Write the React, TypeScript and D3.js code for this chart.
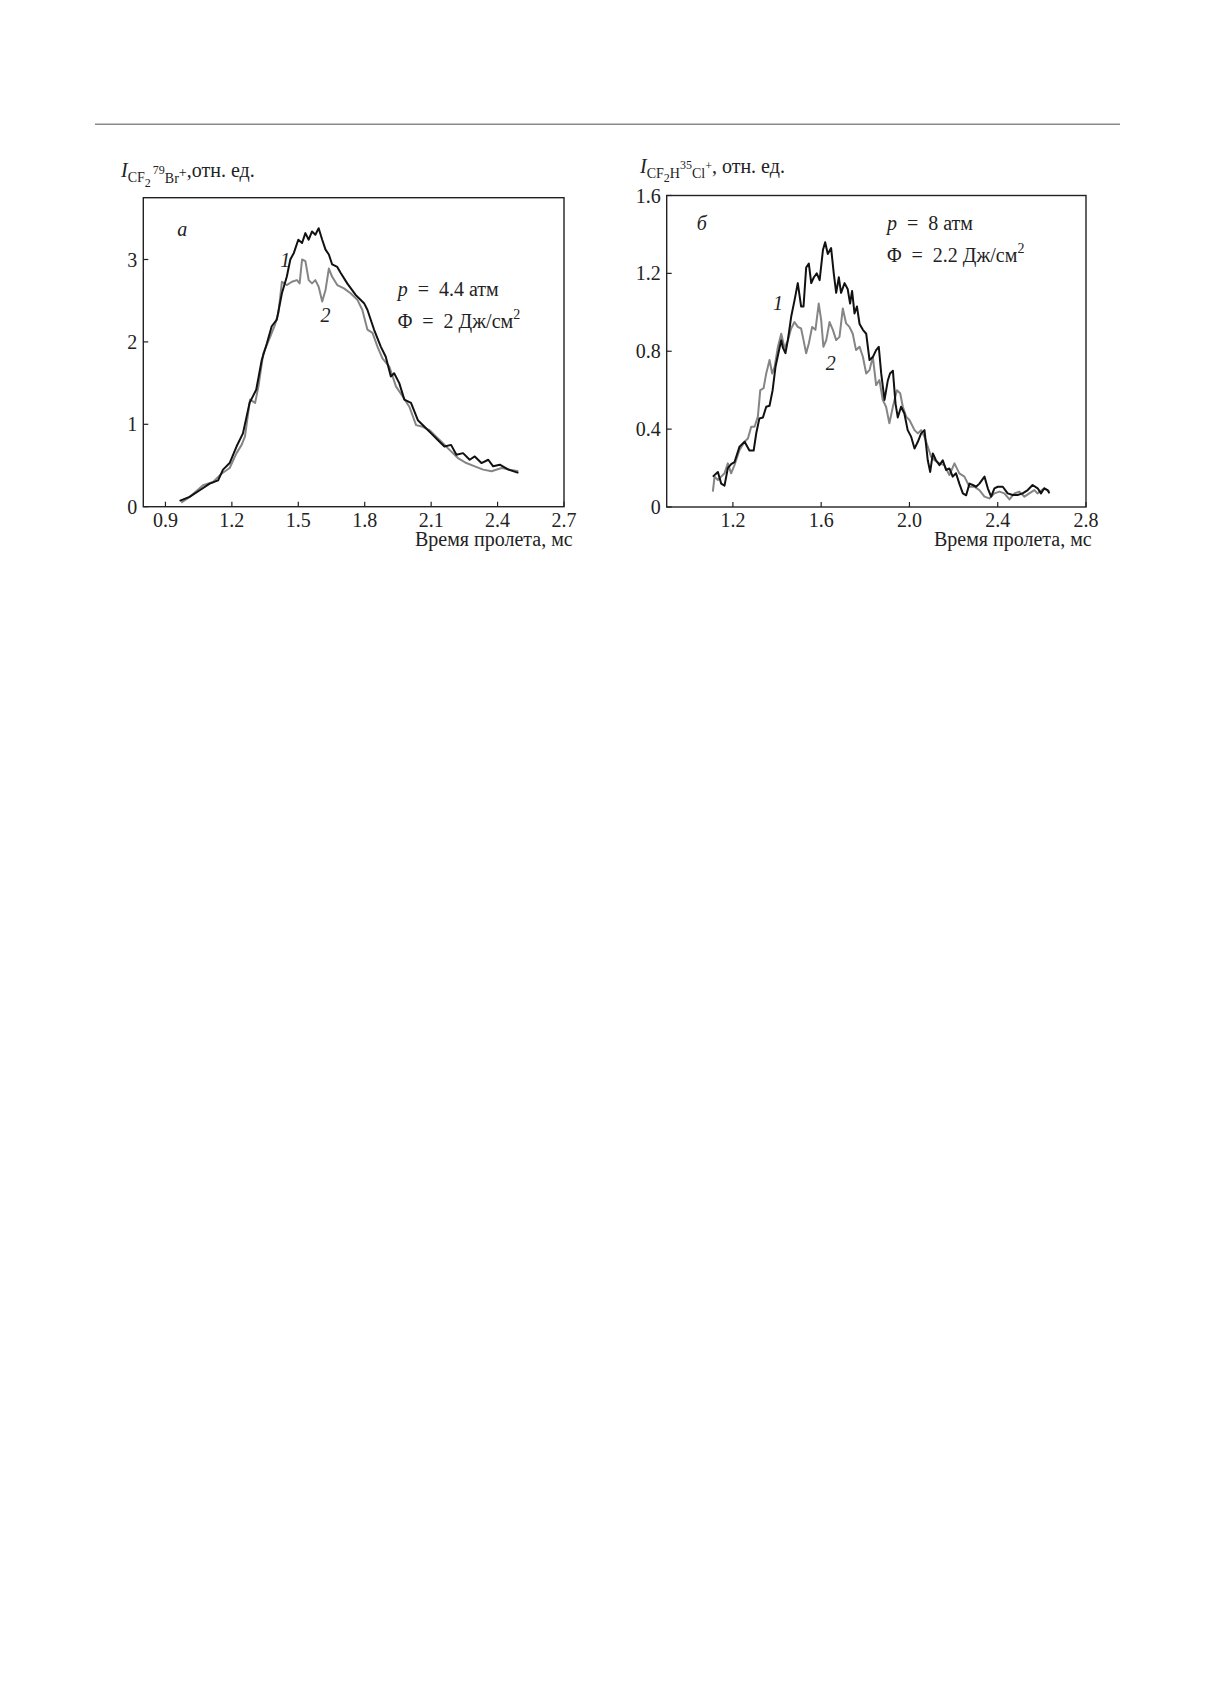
import React from 'react';
import * as d3 from 'd3';

// panel a: CF2 79Br+
const timeA1 = [0.964, 1.009, 1.055, 1.10, 1.138, 1.16, 1.19, 1.221, 1.25, 1.28, 1.31, 1.335, 1.358, 1.38, 1.403, 1.426, 1.448, 1.464, 1.48, 1.50, 1.517, 1.532, 1.547, 1.562, 1.577, 1.592, 1.608, 1.623, 1.638, 1.653, 1.676, 1.691, 1.721, 1.759, 1.797, 1.812, 1.842, 1.873, 1.895, 1.918, 1.933, 1.956, 1.979, 2.009, 2.04, 2.07, 2.10, 2.13, 2.16, 2.19, 2.214, 2.244, 2.274, 2.297, 2.327, 2.358, 2.38, 2.41, 2.449, 2.494];
const signalA1 = [0.07, 0.12, 0.20, 0.28, 0.32, 0.45, 0.53, 0.73, 0.89, 1.26, 1.42, 1.78, 1.98, 2.19, 2.27, 2.59, 2.79, 3.0, 3.08, 3.24, 3.20, 3.32, 3.24, 3.34, 3.30, 3.38, 3.24, 3.12, 3.06, 2.94, 2.91, 2.84, 2.71, 2.57, 2.47, 2.39, 2.15, 1.94, 1.82, 1.58, 1.62, 1.50, 1.30, 1.26, 1.05, 0.97, 0.89, 0.81, 0.73, 0.75, 0.63, 0.65, 0.57, 0.61, 0.53, 0.57, 0.49, 0.51, 0.45, 0.41];
const timeA2 = [0.971, 1.01, 1.07, 1.115, 1.153, 1.19, 1.221, 1.244, 1.259, 1.282, 1.305, 1.32, 1.342, 1.373, 1.395, 1.41, 1.426, 1.448, 1.471, 1.494, 1.506, 1.517, 1.532, 1.547, 1.562, 1.577, 1.592, 1.608, 1.623, 1.638, 1.653, 1.676, 1.706, 1.736, 1.767, 1.789, 1.812, 1.835, 1.858, 1.88, 1.911, 1.941, 1.971, 2.002, 2.032, 2.062, 2.092, 2.123, 2.153, 2.183, 2.221, 2.259, 2.297, 2.335, 2.373, 2.418, 2.456, 2.494];
const signalA2 = [0.05, 0.12, 0.26, 0.30, 0.40, 0.47, 0.65, 0.75, 0.85, 1.30, 1.26, 1.46, 1.86, 2.06, 2.21, 2.35, 2.73, 2.69, 2.73, 2.75, 2.71, 3.0, 2.98, 2.75, 2.71, 2.75, 2.67, 2.49, 2.63, 2.89, 2.79, 2.69, 2.65, 2.59, 2.51, 2.39, 2.15, 2.11, 1.94, 1.80, 1.70, 1.46, 1.34, 1.21, 0.99, 0.97, 0.93, 0.85, 0.77, 0.69, 0.59, 0.53, 0.49, 0.45, 0.43, 0.47, 0.45, 0.43];

// panel б: CF2H 35Cl+
const timeB1 = [1.109, 1.132, 1.147, 1.162, 1.177, 1.192, 1.207, 1.23, 1.253, 1.275, 1.294, 1.306, 1.32, 1.336, 1.351, 1.366, 1.38, 1.393, 1.408, 1.419, 1.426, 1.438, 1.449, 1.464, 1.479, 1.494, 1.509, 1.52, 1.532, 1.544, 1.555, 1.567, 1.58, 1.593, 1.608, 1.618, 1.63, 1.645, 1.657, 1.668, 1.68, 1.69, 1.706, 1.72, 1.731, 1.74, 1.751, 1.762, 1.774, 1.789, 1.804, 1.819, 1.834, 1.849, 1.861, 1.872, 1.887, 1.902, 1.912, 1.925, 1.937, 1.947, 1.962, 1.977, 1.992, 2.008, 2.023, 2.038, 2.053, 2.068, 2.083, 2.094, 2.106, 2.12, 2.136, 2.151, 2.166, 2.181, 2.196, 2.211, 2.226, 2.242, 2.257, 2.272, 2.287, 2.302, 2.317, 2.34, 2.355, 2.37, 2.385, 2.40, 2.423, 2.445, 2.468, 2.49, 2.513, 2.536, 2.558, 2.581, 2.596, 2.611, 2.626, 2.634];
const signalB1 = [0.156, 0.18, 0.12, 0.11, 0.20, 0.22, 0.23, 0.31, 0.335, 0.29, 0.29, 0.38, 0.455, 0.46, 0.515, 0.52, 0.60, 0.72, 0.80, 0.857, 0.82, 0.79, 0.857, 0.977, 1.06, 1.15, 1.03, 1.03, 1.23, 1.25, 1.15, 1.18, 1.20, 1.165, 1.32, 1.36, 1.30, 1.33, 1.20, 1.10, 1.18, 1.10, 1.15, 1.12, 1.045, 1.11, 0.994, 1.03, 0.94, 0.91, 0.89, 0.755, 0.77, 0.806, 0.823, 0.686, 0.55, 0.65, 0.686, 0.70, 0.53, 0.46, 0.515, 0.48, 0.395, 0.36, 0.30, 0.335, 0.378, 0.395, 0.24, 0.18, 0.275, 0.24, 0.215, 0.24, 0.19, 0.198, 0.156, 0.173, 0.12, 0.07, 0.06, 0.12, 0.113, 0.104, 0.12, 0.156, 0.096, 0.053, 0.096, 0.104, 0.104, 0.07, 0.062, 0.062, 0.07, 0.087, 0.113, 0.096, 0.07, 0.096, 0.087, 0.07];
const timeB2 = [1.109, 1.117, 1.132, 1.147, 1.162, 1.177, 1.192, 1.207, 1.23, 1.253, 1.268, 1.283, 1.298, 1.313, 1.324, 1.339, 1.351, 1.366, 1.378, 1.389, 1.404, 1.419, 1.434, 1.449, 1.464, 1.479, 1.494, 1.509, 1.52, 1.532, 1.544, 1.559, 1.574, 1.589, 1.60, 1.61, 1.623, 1.638, 1.653, 1.668, 1.683, 1.698, 1.713, 1.728, 1.743, 1.758, 1.774, 1.789, 1.804, 1.819, 1.834, 1.849, 1.864, 1.879, 1.894, 1.909, 1.925, 1.943, 1.958, 1.97, 1.985, 2.0, 2.023, 2.038, 2.053, 2.068, 2.083, 2.098, 2.113, 2.136, 2.158, 2.181, 2.204, 2.226, 2.249, 2.272, 2.294, 2.317, 2.34, 2.362, 2.385, 2.408, 2.43, 2.453, 2.476, 2.498, 2.521, 2.543, 2.566, 2.58, 2.611, 2.634];
const signalB2 = [0.079, 0.156, 0.139, 0.156, 0.173, 0.224, 0.173, 0.215, 0.293, 0.335, 0.352, 0.412, 0.412, 0.464, 0.60, 0.61, 0.686, 0.755, 0.686, 0.72, 0.823, 0.89, 0.815, 0.857, 0.917, 0.95, 0.925, 0.917, 0.857, 0.79, 0.84, 0.925, 0.91, 1.045, 0.96, 0.823, 0.857, 0.95, 0.91, 0.857, 0.874, 1.02, 0.943, 0.925, 0.89, 0.806, 0.823, 0.772, 0.686, 0.703, 0.772, 0.626, 0.652, 0.55, 0.515, 0.43, 0.515, 0.60, 0.584, 0.515, 0.464, 0.447, 0.395, 0.378, 0.395, 0.361, 0.31, 0.258, 0.241, 0.224, 0.215, 0.164, 0.224, 0.173, 0.156, 0.104, 0.104, 0.087, 0.053, 0.044, 0.07, 0.079, 0.07, 0.039, 0.07, 0.079, 0.053, 0.07, 0.087, 0.07, 0.096, 0.079];

const ticksXA = [0.9, 1.2, 1.5, 1.8, 2.1, 2.4, 2.7];
const ticksYA = [0, 1, 2, 3];
const ticksXB = [1.2, 1.6, 2.0, 2.4, 2.8];
const ticksYB = [0, 0.4, 0.8, 1.2, 1.6];

const FONT = '"Liberation Serif", "DejaVu Serif", serif';
const FS = 20;
const SP = '\u2002'; // wide space around "=" like TeX

const zip = (xs: number[], ys: number[]) => xs.map((x, i) => [x, ys[i]] as [number, number]);

function Panel({ box, xDomain, yDomain, xTicks, yTicks, xFmt, yFmt, series, children }: any) {
  const x = d3.scaleLinear().domain(xDomain).range([box.left, box.right]);
  const y = d3.scaleLinear().domain(yDomain).range([box.bottom, box.top]);
  const line = d3.line<[number, number]>().x(d => x(d[0])).y(d => y(d[1]));

  return (
    <g>
      {series.map((s: any, i: number) => (
        <path key={i} d={line(s.pts) || ''} fill="none" stroke={s.color} strokeWidth={2} strokeLinejoin="round" />
      ))}
      <rect x={box.left} y={box.top} width={box.right - box.left} height={box.bottom - box.top}
        fill="none" stroke="#222" strokeWidth={1.4} />
      {xTicks.map((t: number) => (
        <g key={'x' + t}>
          <line x1={x(t)} x2={x(t)} y1={box.bottom} y2={box.bottom - 5} stroke="#222" strokeWidth={1.2} />
          <text x={x(t)} y={box.bottom + 20} textAnchor="middle" fontSize={FS} fontFamily={FONT} fill="#222">{xFmt(t)}</text>
        </g>
      ))}
      {yTicks.map((t: number) => (
        <g key={'y' + t}>
          <line x1={box.left} x2={box.left + 5} y1={y(t)} y2={y(t)} stroke="#222" strokeWidth={1.2} />
          <text x={box.left - 6} y={y(t) + 7} textAnchor="end" fontSize={FS} fontFamily={FONT} fill="#222">{yFmt(t)}</text>
        </g>
      ))}
      {children(x, y)}
    </g>
  );
}

const App = () => {
  const boxA = { left: 143.3, right: 564, top: 197.7, bottom: 506.7 };
  const boxB = { left: 666.7, right: 1086, top: 195.5, bottom: 507 };
  const txt = { fontFamily: FONT, fontSize: FS, fill: '#222' } as any;

  return (
    <svg width={1211} height={1683} style={{ position: 'absolute', left: 0, top: 0, background: '#fff' }}>
      <line x1={95} x2={1120} y1={124.3} y2={124.3} stroke="#8a8a8a" strokeWidth={1.5} />

      {/* axis titles */}
      <text x={121} y={177.3} {...txt}>
        <tspan fontStyle="italic">I</tspan>
        <tspan fontSize={14} y={182}>CF</tspan>
        <tspan fontSize={12} y={187}>2</tspan>
        <tspan fontSize={12} dx={2} y={174}>79</tspan>
        <tspan fontSize={14} y={182.5}>Br</tspan>
        <tspan fontSize={14} y={177}>+</tspan>
        <tspan y={177.3}>,отн. ед.</tspan>
      </text>
      <text x={640} y={173.3} {...txt}>
        <tspan fontStyle="italic">I</tspan>
        <tspan fontSize={14} y={178}>CF</tspan>
        <tspan fontSize={12} y={182}>2</tspan>
        <tspan fontSize={14} y={178}>H</tspan>
        <tspan fontSize={12} y={169}>35</tspan>
        <tspan fontSize={14} y={178}>Cl</tspan>
        <tspan fontSize={12} y={169.5}>+</tspan>
        <tspan y={173.3}>, отн. ед.</tspan>
      </text>
      <text x={572.7} y={546} textAnchor="end" {...txt}>Время пролета, мс</text>
      <text x={1091.7} y={546} textAnchor="end" {...txt}>Время пролета, мс</text>

      <Panel box={boxA} xDomain={[0.8, 2.7]} yDomain={[0, 3.75]} xTicks={ticksXA} yTicks={ticksYA}
        xFmt={d3.format('.1f')} yFmt={d3.format('d')}
        series={[
          { pts: zip(timeA2, signalA2), color: '#858585' },
          { pts: zip(timeA1, signalA1), color: '#111' },
        ]}>
        {(x: any, y: any) => (
          <g {...txt}>
            <text x={x(0.976)} y={y(3.34) + 5} textAnchor="middle" fontStyle="italic">а</text>
            <text x={x(1.441)} y={y(3.0) + 7} textAnchor="middle" fontStyle="italic">1</text>
            <text x={x(1.623)} y={y(2.33) + 7} textAnchor="middle" fontStyle="italic">2</text>
            <text x={x(1.949)} y={y(2.56)}><tspan fontStyle="italic">p</tspan>{SP}={SP}4.4 атм</text>
            <text x={x(1.949)} y={y(2.17)}>Φ{SP}={SP}2 Дж/см<tspan fontSize={14} dy={-9}>2</tspan></text>
          </g>
        )}
      </Panel>

      <Panel box={boxB} xDomain={[0.9, 2.8]} yDomain={[0, 1.6]} xTicks={ticksXB} yTicks={ticksYB}
        xFmt={d3.format('.1f')} yFmt={(t: number) => (t === 0 ? '0' : d3.format('.1f')(t))}
        series={[
          { pts: zip(timeB2, signalB2), color: '#858585' },
          { pts: zip(timeB1, signalB1), color: '#111' },
        ]}>
        {(x: any, y: any) => (
          <g {...txt}>
            <text x={x(1.059)} y={y(1.448) + 5} textAnchor="middle" fontStyle="italic">б</text>
            <text x={x(1.404)} y={y(1.049) + 7} textAnchor="middle" fontStyle="italic">1</text>
            <text x={x(1.643)} y={y(0.74) + 7} textAnchor="middle" fontStyle="italic">2</text>
            <text x={x(1.898)} y={y(1.423)}><tspan fontStyle="italic">p</tspan>{SP}={SP}8 атм</text>
            <text x={x(1.898)} y={y(1.26)}>Φ{SP}={SP}2.2 Дж/см<tspan fontSize={14} dy={-9}>2</tspan></text>
          </g>
        )}
      </Panel>
    </svg>
  );
};

export default App;
